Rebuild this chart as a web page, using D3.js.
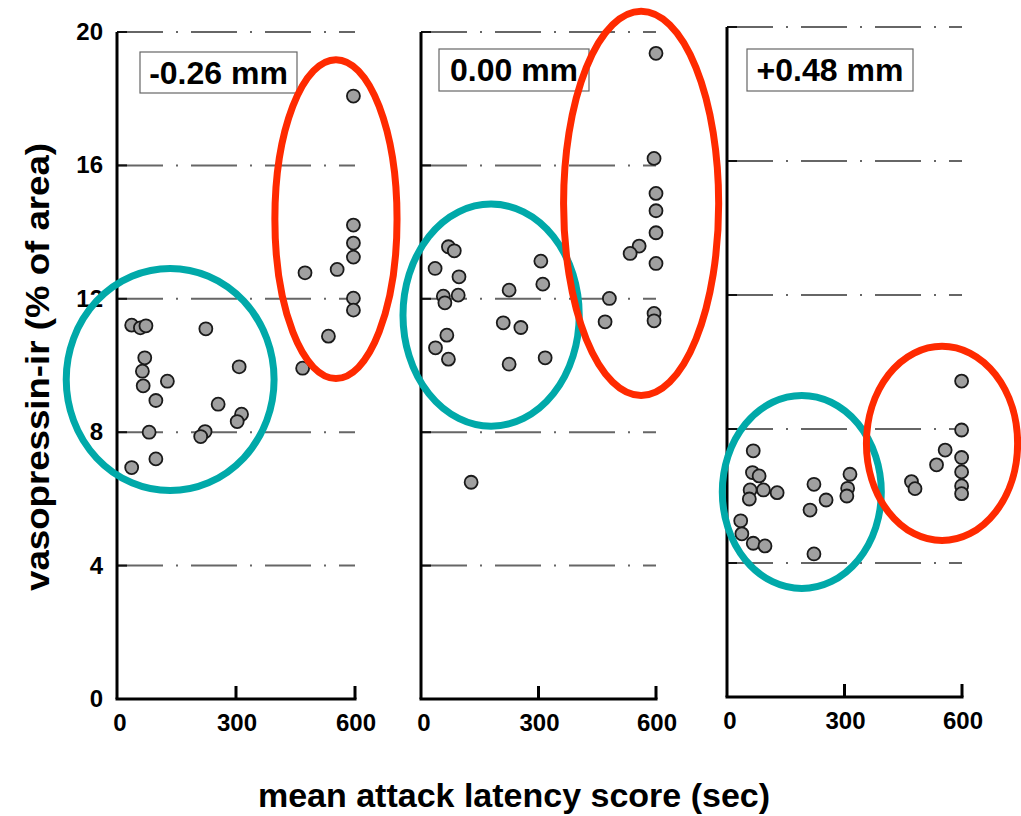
<!DOCTYPE html>
<html>
<head>
<meta charset="utf-8">
<script src="https://cdn.jsdelivr.net/npm/d3@7"></script>
<style>
  body { margin: 0; background: #fff; }
  text { font-family: "Liberation Sans", Arial, sans-serif; font-weight: bold; }
</style>
</head>
<body>
<div id="chart"></div>
<script>
// Vasopressin-ir vs mean attack latency, three brain levels

// Tick values
const yTicks = [0, 4, 8, 12, 16, 20];
const xTicks = [0, 300, 600];
const gridLevels = [4, 8, 12, 16, 20];

// Panel labels
const panelLabels = ["-0.26 mm", "0.00 mm", "+0.48 mm"];

// Panel A (-0.26 mm)
const latencyA = [37, 59, 73, 224, 70, 64, 66, 127, 98, 308, 255, 314, 303, 81, 222, 211, 98, 37,
                  596, 596, 596, 596, 474, 555, 596, 596, 533, 468];
const vasoA = [11.21, 11.13, 11.19, 11.1, 10.23, 9.83, 9.39, 9.53, 8.95, 9.96, 8.84, 8.54, 8.32, 8.0, 8.02, 7.87, 7.2, 6.94,
               18.08, 14.21, 13.67, 13.25, 12.78, 12.88, 12.02, 11.66, 10.88, 9.92];

// Panel B (0.00 mm)
const latencyB = [70, 85, 36, 97, 57, 95, 61, 225, 306, 311, 210, 255, 66, 37, 70, 225, 317, 128,
                  600, 595, 600, 600, 600, 557, 534, 600, 481, 470, 595, 595];
const vasoB = [13.56, 13.44, 12.91, 12.66, 12.08, 12.11, 11.88, 12.26, 13.13, 12.44, 11.28, 11.14, 10.91, 10.53, 10.19, 10.04, 10.23, 6.5,
               19.36, 16.21, 15.16, 14.64, 13.98, 13.58, 13.36, 13.06, 12.01, 11.31, 11.56, 11.34];

// Panel C (+0.48 mm)
const latencyC = [67, 65, 82, 59, 93, 128, 57, 222, 253, 212, 314, 308, 306, 35, 38, 67, 97, 222,
                  599, 599, 557, 535, 599, 599, 599, 599, 471, 480];
const vasoC = [7.35, 6.7, 6.6, 6.18, 6.18, 6.1, 5.91, 6.35, 5.88, 5.58, 6.65, 6.23, 6.0, 5.26, 4.87, 4.59, 4.51, 4.27,
               9.43, 7.97, 7.37, 6.93, 7.15, 6.72, 6.3, 6.07, 6.43, 6.22];

// Highlight ellipses in data units: [cx sec, cy %, rx sec, ry %]
const tealRings = [[134, 9.58, 262, 3.33], [179, 11.51, 225, 3.33], [191, 6.12, 203, 2.88]];
const redRings  = [[552, 14.39, 154, 4.78], [562, 14.86, 198, 5.76], [549, 7.57, 193, 2.90]];

const width = 1021, height = 816;

// pixel frame of each panel: left (x=0), right (x=600), top (y=20), bottom (y=0)
const frames = [
  {left: 117, right: 355, top: 32, bottom: 699, box: [23, 20, 157, 41]},
  {left: 421, right: 656, top: 32, bottom: 699, box: [18, 17, 150, 42]},
  {left: 727, right: 962, top: 27, bottom: 697, box: [20, 22, 166, 42]}
];

const panels = [
  {x: latencyA, y: vasoA},
  {x: latencyB, y: vasoB},
  {x: latencyC, y: vasoC}
];

const svg = d3.select("#chart").append("svg")
    .attr("width", width)
    .attr("height", height);

frames.forEach((f, i) => {
  const x = d3.scaleLinear().domain([0, 600]).range([f.left, f.right]);
  const y = d3.scaleLinear().domain([0, 20]).range([f.bottom, f.top]);
  const g = svg.append("g");

  // dash-dot grid lines
  g.selectAll("line.grid")
    .data(gridLevels)
    .enter().append("line")
    .attr("class", "grid")
    .attr("x1", x(0)).attr("x2", x(600))
    .attr("y1", d => y(d)).attr("y2", d => y(d))
    .attr("stroke", "#666")
    .attr("stroke-width", 2)
    .attr("stroke-dasharray", "46,13,2,13");

  // short solid stub at the axis
  g.selectAll("line.stub")
    .data(gridLevels)
    .enter().append("line")
    .attr("x1", x(0)).attr("x2", x(0) + 10)
    .attr("y1", d => y(d)).attr("y2", d => y(d))
    .attr("stroke", "#111")
    .attr("stroke-width", 2);

  // axes
  g.append("line")
    .attr("x1", x(0)).attr("x2", x(0))
    .attr("y1", y(0)).attr("y2", y(20))
    .attr("stroke", "#000").attr("stroke-width", 3);
  g.append("line")
    .attr("x1", x(0) - 1.5).attr("x2", x(600) + 1.5)
    .attr("y1", y(0)).attr("y2", y(0))
    .attr("stroke", "#000").attr("stroke-width", 3);
  g.selectAll("line.xtick")
    .data(xTicks.slice(1))
    .enter().append("line")
    .attr("x1", d => x(d)).attr("x2", d => x(d))
    .attr("y1", y(0)).attr("y2", y(0) - 13)
    .attr("stroke", "#000").attr("stroke-width", 3);

  g.selectAll("text.xlab")
    .data(xTicks)
    .enter().append("text")
    .attr("x", d => x(d) + (d === 0 ? 3 : 1))
    .attr("y", f.bottom + 32)
    .attr("text-anchor", "middle")
    .style("font-size", "24px")
    .text(d => d);

  if (i === 0) {
    g.selectAll("text.ylab")
      .data(yTicks)
      .enter().append("text")
      .attr("x", x(0) - 14)
      .attr("y", d => y(d) + 8)
      .attr("text-anchor", "end")
      .style("font-size", "24px")
      .text(d => d);
  }

  // label box
  const b = f.box;
  g.append("rect")
    .attr("x", x(0) + b[0]).attr("y", y(20) + b[1])
    .attr("width", b[2]).attr("height", b[3])
    .attr("fill", "#fff")
    .attr("stroke", "#666").attr("stroke-width", 1.2);
  g.append("text")
    .attr("x", x(0) + b[0] + b[2] / 2)
    .attr("y", y(20) + b[1] + b[3] / 2 + 11)
    .attr("text-anchor", "middle")
    .style("font-size", "32px")
    .text(panelLabels[i]);

  // data points
  const pts = d3.range(panels[i].x.length);
  g.selectAll("circle.pt")
    .data(pts)
    .enter().append("circle")
    .attr("cx", k => x(panels[i].x[k]))
    .attr("cy", k => y(panels[i].y[k]))
    .attr("r", 6.5)
    .attr("fill", "#a0a0a0")
    .attr("stroke", "#1a1a1a")
    .attr("stroke-width", 1.8);

  // highlight ellipses
  [[tealRings[i], "#00a9a9"], [redRings[i], "#ff2a00"]].forEach(([e, c]) => {
    g.append("ellipse")
      .attr("cx", x(e[0]))
      .attr("cy", y(e[1]))
      .attr("rx", x(e[2]) - x(0))
      .attr("ry", y(0) - y(e[3]))
      .attr("fill", "none")
      .attr("stroke", c)
      .attr("stroke-width", 7);
  });
});

// axis titles
svg.append("text")
  .attr("transform", "translate(49, 367) rotate(-90)")
  .attr("text-anchor", "middle")
  .attr("textLength", 448)
  .attr("lengthAdjust", "spacingAndGlyphs")
  .style("font-size", "34px")
  .text("vasopressin-ir (% of area)");

svg.append("text")
  .attr("x", 514)
  .attr("y", 807)
  .attr("text-anchor", "middle")
  .style("font-size", "34px")
  .text("mean attack latency score (sec)");
</script>
</body>
</html>
